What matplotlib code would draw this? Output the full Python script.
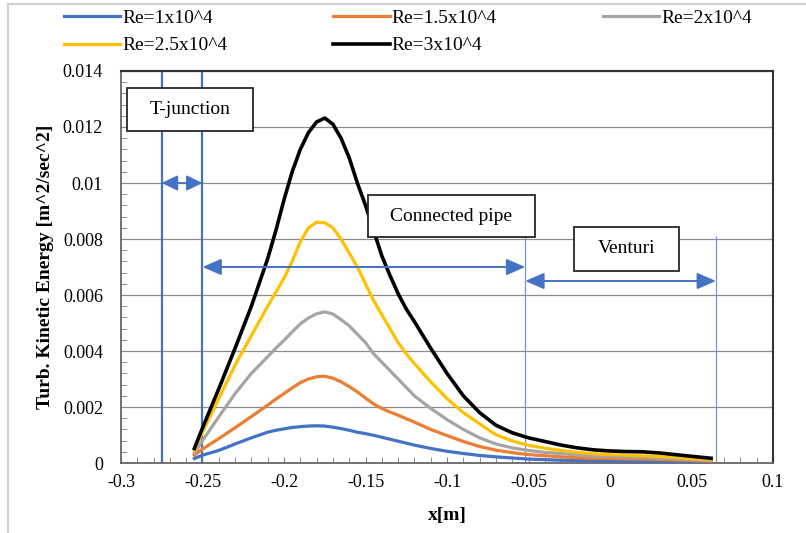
import matplotlib
matplotlib.use("Agg")
import matplotlib.pyplot as plt
from matplotlib.patches import Rectangle
from matplotlib.lines import Line2D
from matplotlib.ticker import MultipleLocator, FuncFormatter

plt.rcParams['font.family'] = ['Liberation Serif', 'DejaVu Serif']
plt.rcParams['axes.unicode_minus'] = False

# data
x_m = [-0.255, -0.25, -0.24, -0.23, -0.22, -0.21, -0.205, -0.20, -0.195, -0.19,
       -0.185, -0.18, -0.175, -0.17, -0.165, -0.16, -0.155, -0.15, -0.145, -0.14,
       -0.135, -0.13, -0.125, -0.12, -0.11, -0.10, -0.09, -0.08, -0.07, -0.06,
       -0.05, -0.04, -0.03, -0.02, -0.01, 0.0, 0.01, 0.02, 0.03, 0.04, 0.05, 0.062]

re_1 = [0.00016, 0.00028, 0.00045, 0.00068, 0.0009, 0.0011, 0.00117, 0.00122, 0.00127, 0.0013,
        0.00132, 0.00133, 0.00132, 0.00128, 0.00123, 0.00117, 0.0011, 0.00105, 0.00099, 0.00092,
        0.00085, 0.00078, 0.00071, 0.00064, 0.00052, 0.00042, 0.00034, 0.00027, 0.00022, 0.00018,
        0.00014, 0.00012, 0.0001, 0.00009, 0.00008, 0.00007, 0.00007, 0.00006, 0.00006, 0.00005,
        0.00005, 0.00004]

re_15 = [0.00028, 0.0005, 0.00087, 0.00126, 0.00166, 0.00207, 0.00228, 0.00248, 0.00268, 0.00287,
         0.003, 0.00308, 0.0031, 0.00303, 0.0029, 0.00273, 0.00254, 0.00232, 0.00211, 0.00195,
         0.00182, 0.00171, 0.00158, 0.00146, 0.0012, 0.00098, 0.00077, 0.00059, 0.00046, 0.00037,
         0.0003, 0.00026, 0.00022, 0.00019, 0.00017, 0.00016, 0.00015, 0.00014, 0.00013, 0.00011,
         0.00009, 0.00007]

re_2 = [0.00035, 0.0008, 0.00165, 0.00248, 0.0032, 0.0038, 0.0041, 0.00438, 0.00468, 0.00497,
        0.00518, 0.00533, 0.0054, 0.00532, 0.00512, 0.0049, 0.0046, 0.0043, 0.0039, 0.0036,
        0.0033, 0.003, 0.0027, 0.0024, 0.00195, 0.00155, 0.0012, 0.0009, 0.00068, 0.00054,
        0.00045, 0.00038, 0.00034, 0.00029, 0.00025, 0.00023, 0.00021, 0.0002, 0.00018, 0.00015,
        0.00012, 0.00009]

re_25 = [0.00045, 0.0011, 0.0023, 0.0035, 0.00455, 0.0056, 0.0061, 0.0066, 0.0072, 0.0079,
         0.0084, 0.0086, 0.00858, 0.0084, 0.008, 0.0075, 0.007, 0.0064, 0.0058, 0.0053,
         0.0048, 0.0043, 0.0039, 0.00355, 0.0029, 0.0023, 0.0018, 0.0014, 0.00101, 0.00079,
         0.00063, 0.00053, 0.00045, 0.00038, 0.00033, 0.0003, 0.00028, 0.00026, 0.00023, 0.0002,
         0.00016, 0.00012]

re_3 = [0.00052, 0.00125, 0.00265, 0.0041, 0.0056, 0.0073, 0.0083, 0.0094, 0.0104, 0.0112,
        0.0118, 0.01218, 0.01232, 0.0121, 0.0116, 0.0109, 0.01, 0.0092, 0.0083, 0.0074,
        0.0067, 0.00605, 0.0055, 0.00505, 0.0041, 0.0032, 0.0024, 0.0018, 0.00135, 0.00108,
        0.0009, 0.00077, 0.00064, 0.00054, 0.00047, 0.00043, 0.00041, 0.0004, 0.00036, 0.0003,
        0.00024, 0.00017]

series = [(re_1, 'Re=1x10^4', '#4472C4'),
          (re_15, 'Re=1.5x10^4', '#ED7D31'),
          (re_2, 'Re=2x10^4', '#A5A5A5'),
          (re_25, 'Re=2.5x10^4', '#FFC000'),
          (re_3, 'Re=3x10^4', '#000000')]

# region boundaries and labels
bounds = [-0.275, -0.25, -0.052, 0.065]
regions = ['T-junction', 'Connected pipe', 'Venturi']

fig = plt.figure(figsize=(8.06, 5.33), dpi=100)
ax = fig.add_axes([0.1501, 0.1313, 0.809, 0.7355])

handles = []
for vals, name, col in series:
    lw = 2.6 if col == '#000000' else 2.3
    h, = ax.plot(x_m, vals, color=col, lw=lw, label=name, zorder=3,
                 solid_joinstyle='round')
    handles.append(h)

ax.set_xlim(-0.3, 0.1)
ax.set_ylim(0, 0.014)
ax.xaxis.set_major_locator(MultipleLocator(0.05))
ax.xaxis.set_minor_locator(MultipleLocator(0.01))
ax.yaxis.set_major_locator(MultipleLocator(0.002))
ax.yaxis.set_minor_locator(MultipleLocator(0.0004))

def fmt(v, pos):
    v = round(v, 6)
    if v == 0:
        return '0'
    return '%g' % v

ax.xaxis.set_major_formatter(FuncFormatter(fmt))
ax.yaxis.set_major_formatter(FuncFormatter(fmt))

ax.tick_params(axis='x', which='both', direction='in', length=4, color='#7f7f7f',
               labelsize=13, pad=8)
ax.tick_params(axis='y', which='major', length=0, labelsize=13, pad=13)
ax.tick_params(axis='y', which='minor', direction='in', length=4, color='#7f7f7f')

ax.grid(axis='y', which='major', color='#8c8c8c', lw=0.9, zorder=0)
ax.set_axisbelow(True)
for side in ['left', 'bottom']:
    ax.spines[side].set_color('#666666')
    ax.spines[side].set_linewidth(1.3)
for side in ['top', 'right']:
    ax.spines[side].set_color('#333333')
    ax.spines[side].set_linewidth(1.5)

ax.set_xlabel('x[m]', fontsize=14, fontweight='bold')
ax.set_ylabel('Turb. Kinetic Energy [m^2/sec^2]', fontsize=14, fontweight='bold')
ax.xaxis.set_label_coords(0.5, -0.112)
ax.yaxis.set_label_coords(-0.102, 0.5)

# boundary lines
ax.vlines(bounds[:2], 0, 0.014, color='#4472C4', lw=1.6, zorder=2)
ax.vlines(bounds[2:], 0, 0.0081, color='#7096d8', lw=0.9, zorder=2)

# arrows
ax.annotate('', xy=(bounds[1], 0.01), xytext=(bounds[0], 0.01),
            arrowprops=dict(arrowstyle='<|-|>,head_length=0.97,head_width=0.47',
                            color='#4472C4', lw=1.3, shrinkA=0, shrinkB=0), zorder=4)
ax.annotate('', xy=(bounds[2], 0.007), xytext=(bounds[1], 0.007),
            arrowprops=dict(arrowstyle='<|-|>,head_length=1.15,head_width=0.5',
                            color='#4472C4', lw=1.4, shrinkA=0, shrinkB=0), zorder=4)
ax.annotate('', xy=(bounds[3], 0.0065), xytext=(bounds[2], 0.0065),
            arrowprops=dict(arrowstyle='<|-|>,head_length=1.15,head_width=0.5',
                            color='#4472C4', lw=1.4, shrinkA=0, shrinkB=0), zorder=4)

# label boxes: (x0, x1, y0, y1)
boxes = [(-0.2963, -0.2190, 0.01186, 0.01339),
         (-0.1485, -0.0460, 0.00807, 0.00957),
         (-0.0221, 0.0423, 0.00686, 0.00844)]
for (x0, x1, y0, y1), txt in zip(boxes, regions):
    ax.add_patch(Rectangle((x0, y0), x1 - x0, y1 - y0, facecolor='white',
                           edgecolor='#262626', lw=1.3, zorder=5, clip_on=False))
    ax.text((x0 + x1) / 2, (y0 + y1) / 2, txt, ha='center', va='center',
            fontsize=14, zorder=6)

# legend laid out row by row
order = [0, 3, 1, 4, 2]
fig.legend([handles[i] for i in order], [series[i][1] for i in order],
           loc='upper left', bbox_to_anchor=(64 / 806, 0.983), ncol=3,
           frameon=False, fontsize=14, handlelength=2.9, handletextpad=0.1,
           columnspacing=5.45, labelspacing=0.52, borderpad=0, borderaxespad=0)

# light chart-area border
fig.add_artist(Line2D([8 / 806, 1], [1 - 4 / 533, 1 - 4 / 533], color='#d0d0d0', lw=1.5))
fig.add_artist(Line2D([8 / 806, 8 / 806], [0, 1 - 4 / 533], color='#d0d0d0', lw=1.5))

fig.savefig('out.png', dpi=100)
